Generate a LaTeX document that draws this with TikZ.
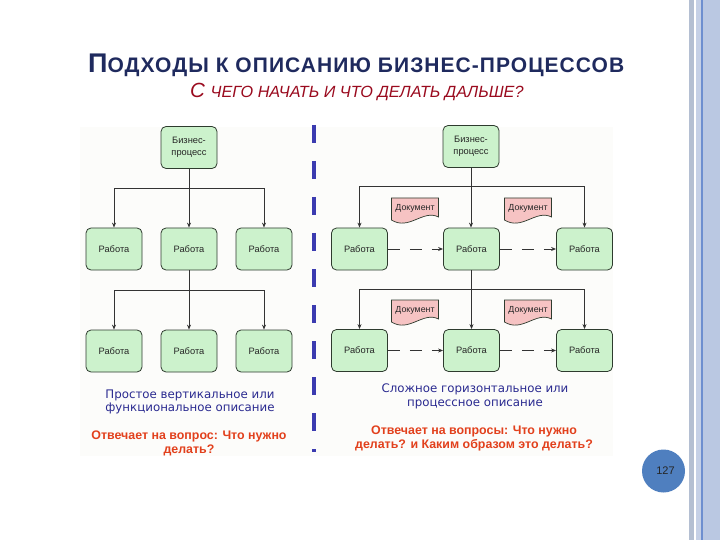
\documentclass[tikz,border=0pt]{standalone}
\usepackage{fontspec}
\setmainfont{Liberation Sans}
\newfontfamily\dv{DejaVu Sans}
\newfontfamily\titlefont[LetterSpace=5]{Liberation Sans Bold}
\usetikzlibrary{arrows.meta}
\definecolor{titlecol}{HTML}{1F2A5E}
\definecolor{subcol}{HTML}{9A0A1E}
\definecolor{boxfill}{HTML}{CCF2CC}
\definecolor{boxdraw}{HTML}{2E3B2E}
\definecolor{docfill}{HTML}{F6C3C3}
\definecolor{bluetxt}{HTML}{2A2A90}
\definecolor{redtxt}{HTML}{E2401C}
\definecolor{vline}{HTML}{3B3BB0}
\definecolor{pagecol}{HTML}{4F7FBF}
\definecolor{panel}{HTML}{FCFCFA}
\definecolor{stripeA}{HTML}{B4BFD2}
\definecolor{stripeB}{HTML}{C5D0E6}
\definecolor{stripeC}{HTML}{6E8FCF}
\definecolor{stripeD}{HTML}{BAC8E2}
\tikzset{
  workbox/.style={draw=boxdraw, fill=boxfill, rounded corners=5pt, line width=0.8pt,
    minimum width=56pt, minimum height=42pt, inner sep=1pt, align=center,
    font=\fontsize{9.3}{11.5}\selectfont, text=black!85},
  arr/.style={draw=black!80, line width=0.8pt, -{Stealth[length=5pt,width=4pt]}},
  plainline/.style={draw=black!80, line width=0.8pt},
  dasharr/.style={draw=black!80, line width=0.9pt, dash pattern=on 12pt off 10pt, -{Stealth[length=5pt,width=4pt]}},
  docshape/.style={draw=boxdraw, fill=docfill, line width=0.7pt},
  doctext/.style={font=\fontsize{8.8}{10}\selectfont, text=black!85, inner sep=0pt},
  bluenote/.style={text=bluetxt, align=center, font=\dv\fontsize{11.8}{13.5}\selectfont},
  rednote/.style={text=redtxt, align=center, font=\bfseries\fontsize{12.4}{14}\selectfont},
}
\newcommand{\docat}[3]{%
  \begin{scope}[shift={(#1,#2)}]
    \draw[docshape] (-23.5,-11) -- (23.5,-11) -- (23.5,8) .. controls (8,0) and (-6,22) .. (-23.5,11) -- cycle;
    \node[doctext] (#3) at (0,-1) {Документ};
  \end{scope}}
\begin{document}
\begin{tikzpicture}[x=1pt,y=-1pt]
\useasboundingbox (0,0) rectangle (720,540);
\fill[white] (0,0) rectangle (720,540);
% right border stripes
\fill[stripeA] (689,0) rectangle (693.5,540);
\fill[stripeB] (696,0) rectangle (701.3,540);
\fill[stripeC] (701.3,0) rectangle (702.8,540);
\fill[stripeD] (702.8,0) rectangle (720,540);
% panel
\fill[panel] (80,127) rectangle (613,456);
% title
\node[anchor=base west, inner sep=0pt, text=titlecol] (title) at (88,73)
  {\titlefont{\fontsize{27}{27}\selectfont П}{\fontsize{21}{21}\selectfont ОДХОДЫ К ОПИСАНИЮ БИЗНЕС-ПРОЦЕССОВ}};
\node[anchor=base west, inner sep=0pt, text=subcol] (subtitle) at (190,98)
  {\itshape{\fontsize{20.5}{20}\selectfont С }{\fontsize{16.2}{16}\selectfont ЧЕГО НАЧАТЬ И ЧТО ДЕЛАТЬ ДАЛЬШЕ?}};
% vertical dashed separator
\coordinate (vt) at (314,125);
\coordinate (vb) at (314,452);
\draw[vline, line width=4pt, dash pattern=on 18pt off 18pt] (vt) -- (vb);
% ---------- left diagram
\node[workbox] (lbp) at (189,147.5) {Бизнес-\\процесс};
\node[workbox] (l11) at (114,249) {Работа};
\node[workbox] (l12) at (189,249) {Работа};
\node[workbox] (l13) at (264,249) {Работа};
\node[workbox] (l21) at (114,351) {Работа};
\node[workbox] (l22) at (189,351) {Работа};
\node[workbox] (l23) at (264,351) {Работа};
\coordinate (lbar1) at (0,188);
\coordinate (lbar2) at (0,290);
\draw[plainline] (lbp.south) -- (lbp.south |- lbar1);
\draw[arr] (lbp.south |- lbar1) -| (l11.north);
\draw[arr] (lbp.south) -- (l12.north);
\draw[arr] (lbp.south |- lbar1) -| (l13.north);
\draw[plainline] (l12.south) -- (l12.south |- lbar2);
\draw[arr] (l12.south |- lbar2) -| (l21.north);
\draw[arr] (l12.south) -- (l22.north);
\draw[arr] (l12.south |- lbar2) -| (l23.north);
\node[bluenote] (lnote1) at (190,402) {Простое вертикальное или\\функциональное описание};
\node[rednote] (lnote2) at (189,443.5) {Отвечает на вопрос: Что нужно\\делать?};
% ---------- right diagram
\node[workbox] (rbp) at (471,146.5) {Бизнес-\\процесс};
\node[workbox] (r11) at (359.5,249) {Работа};
\node[workbox] (r12) at (471.5,249) {Работа};
\node[workbox] (r13) at (584.5,249) {Работа};
\node[workbox] (r21) at (359.5,350.5) {Работа};
\node[workbox] (r22) at (471.5,350.5) {Работа};
\node[workbox] (r23) at (584.5,350.5) {Работа};
\coordinate (rbar1) at (0,186.5);
\coordinate (rbar2) at (0,289);
\draw[plainline] (rbp.south) -- (rbp.south |- rbar1);
\draw[arr] (rbp.south |- rbar1) -| (r11.north);
\draw[arr] (rbp.south) -- (rbp.south |- r12.north);
\draw[arr] (rbp.south |- rbar1) -| (r13.north);
\draw[plainline] (r12.south) -- (r12.south |- rbar2);
\draw[arr] (r12.south |- rbar2) -| (r21.north);
\draw[arr] (r12.south) -- (r22.north);
\draw[arr] (r12.south |- rbar2) -| (r23.north);
\draw[dasharr] (r11.east) -- (r12.west);
\draw[dasharr] (r12.east) -- (r13.west);
\draw[dasharr] (r21.east) -- (r22.west);
\draw[dasharr] (r22.east) -- (r23.west);
\docat{415}{209}{d11}
\docat{528}{209}{d12}
\docat{415}{311}{d21}
\docat{528}{311}{d22}
\node[bluenote] (rnote1) at (475,396.5) {Сложное горизонтальное или\\процессное описание};
\node[rednote] (rnote2) at (474,438.5) {Отвечает на вопросы: Что нужно\\делать? и Каким образом это делать?};
% page number
\node[circle, fill=pagecol, minimum size=43pt, inner sep=0pt, text=black!85,
  font=\fontsize{11}{12}\selectfont] (page) at (663.5,471) {\hspace*{4pt}127};
\end{tikzpicture}
\end{document}
